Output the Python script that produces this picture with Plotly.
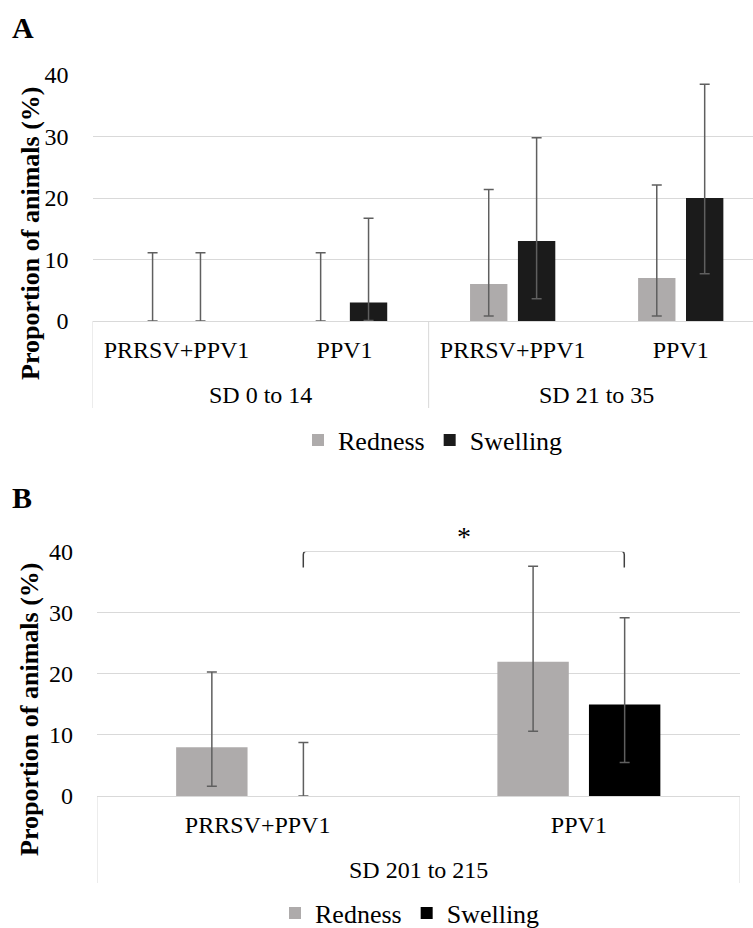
import plotly.graph_objects as go

# ---------------- data ----------------
# Panel A
a_groups = ["SD 0 to 14", "SD 0 to 14", "SD 21 to 35", "SD 21 to 35"]
a_cats = ["PRRSV+PPV1", "PPV1", "PRRSV+PPV1", "PPV1"]
a_red = [0, 0, 6, 7]
a_red_hi = [11.1, 11.1, 21.4, 22.1]
a_red_lo = [0, 0, 0.8, 0.8]
a_swe = [0, 3, 13, 20]
a_swe_hi = [11.1, 16.7, 29.8, 38.5]
a_swe_lo = [0, 0.1, 3.6, 7.7]

# Panel B
b_groups = ["SD 201 to 215", "SD 201 to 215"]
b_cats = ["PRRSV+PPV1", "PPV1"]
b_red = [8, 22]
b_red_hi = [20.3, 37.6]
b_red_lo = [1.6, 10.6]
b_swe = [0, 15]
b_swe_hi = [8.75, 29.2]
b_swe_lo = [0, 5.5]

y_ticks = [0, 10, 20, 30, 40]

# ---------------- style ----------------
W, H = 753, 928
FONT = "'Times New Roman', 'Liberation Serif', 'Nimbus Roman', 'DejaVu Serif', serif"
RED_C = "#AEABAB"
SWE_A_C = "#1B1B1B"
SWE_B_C = "#000000"
ERR_C = "#5F5F5F"
GRID_C = "#D9D9D9"


def px_y(p):
    return 1 - p / H


def err(vals, hi, lo):
    return dict(type="data", symmetric=False,
                array=[h - v for v, h in zip(vals, hi)],
                arrayminus=[v - l for v, l in zip(vals, lo)],
                color=ERR_C, thickness=1.5, width=5)


fig = go.Figure()

panels = [
    dict(xa="x", ya="y", leg="legend", groups=a_groups, cats=a_cats,
         red=(a_red, a_red_hi, a_red_lo), swe=(a_swe, a_swe_hi, a_swe_lo),
         swe_c=SWE_A_C, group_y=395, div=(321, 408)),
    dict(xa="x2", ya="y2", leg="legend2", groups=b_groups, cats=b_cats,
         red=(b_red, b_red_hi, b_red_lo), swe=(b_swe, b_swe_hi, b_swe_lo),
         swe_c=SWE_B_C, group_y=870, div=(796, 883)),
]

for p in panels:
    idx = list(range(len(p["cats"])))
    for name, (v, hi, lo), col in (("Redness", p["red"], RED_C), ("Swelling", p["swe"], p["swe_c"])):
        fig.add_trace(go.Bar(x=idx, y=v, name=name,
                             marker=dict(color=col, line=dict(width=0)),
                             error_y=err(v, hi, lo),
                             xaxis=p["xa"], yaxis=p["ya"], legend=p["leg"]))
    # group labels of the two-level category axis
    order = []
    for g in p["groups"]:
        if g not in order:
            order.append(g)
    for g in order:
        members = [i for i, gg in enumerate(p["groups"]) if gg == g]
        fig.add_annotation(text=g, xref=p["xa"], yref="paper",
                           x=sum(members) / len(members), y=px_y(p["group_y"]),
                           xanchor="center", yanchor="middle", showarrow=False,
                           font=dict(family=FONT, size=24, color="black"))
    # dividers at group boundaries
    bounds = [-0.5]
    for i in range(1, len(p["groups"])):
        if p["groups"][i] != p["groups"][i - 1]:
            bounds.append(i - 0.5)
    bounds.append(len(p["groups"]) - 0.5)
    for b in bounds:
        fig.add_shape(type="line", xref=p["xa"], yref="paper", x0=b, x1=b,
                      y0=px_y(p["div"][0]), y1=px_y(p["div"][1]),
                      line=dict(color=GRID_C, width=1))

xcommon = dict(showline=True, linecolor=GRID_C, linewidth=1, showgrid=False,
               zeroline=False, ticks="", ticklabelstandoff=7,
               tickfont=dict(family=FONT, size=24, color="black"))
ycommon = dict(range=[0, 40], tickvals=y_ticks, showgrid=True, gridcolor=GRID_C,
               gridwidth=1, zeroline=False, showline=False, ticks="",
               ticklabelstandoff=23,
               tickfont=dict(family=FONT, size=24, color="black"))

legend_common = dict(orientation="h", xanchor="center", yanchor="middle",
                     font=dict(family=FONT, size=26, color="black"),
                     bgcolor="rgba(0,0,0,0)", itemwidth=30, tracegroupgap=0)

fig.update_layout(
    width=W, height=H,
    margin=dict(l=0, r=0, t=0, b=0, autoexpand=False),
    paper_bgcolor="white", plot_bgcolor="white",
    barmode="group", bargap=0.43, bargroupgap=0.22,
    font=dict(family=FONT, size=24, color="black"),
    # panel A's plot area runs slightly past the right edge of the picture
    xaxis=dict(domain=[92.5 / W, 1.0], anchor="y", range=[-0.5, len(a_cats) - 0.57],
               tickvals=list(range(len(a_cats))), ticktext=a_cats, **xcommon),
    yaxis=dict(domain=[px_y(321), px_y(75)], anchor="x", **ycommon),
    xaxis2=dict(domain=[97 / W, 739.5 / W], anchor="y2", range=[-0.5, len(b_cats) - 0.5],
                tickvals=list(range(len(b_cats))), ticktext=b_cats, **xcommon),
    yaxis2=dict(domain=[px_y(796), px_y(551.7)], anchor="x2", **ycommon),
    legend=dict(x=433 / W, y=px_y(440), **legend_common),
    legend2=dict(x=410 / W, y=px_y(913), **legend_common),
    showlegend=True,
)

# panel letters and y-axis titles
for txt, yy in (("A", 27.5), ("B", 497)):
    fig.add_annotation(text="<b>%s</b>" % txt, xref="paper", yref="paper",
                       x=10 / W, y=px_y(yy), xanchor="left", yanchor="middle",
                       showarrow=False, font=dict(family=FONT, size=30, color="black"))
for xx, yy in ((30, 234), (29, 710)):
    fig.add_annotation(text="<b>Proportion of animals (%)</b>", xref="paper", yref="paper",
                       x=xx / W, y=px_y(yy), xanchor="center", yanchor="middle",
                       textangle=-90, showarrow=False,
                       font=dict(family=FONT, size=26, color="black"))

# significance bracket in panel B (between the two Swelling bars)
bx0 = (303.3 - 97) / (739.5 - 97)
bx1 = (624.3 - 97) / (739.5 - 97)
ytop, ylow = 40.1, 37.4
path = (f"M {bx0},{ylow} L {bx0},{ytop - 0.6} Q {bx0},{ytop} {bx0 + 0.006},{ytop} "
        f"L {bx1 - 0.006},{ytop} Q {bx1},{ytop} {bx1},{ytop - 0.6} L {bx1},{ylow}")
fig.add_shape(type="path", path=path, xref="x2 domain", yref="y2",
              line=dict(color="#404040", width=1.5))
fig.add_annotation(text="*", xref="x2 domain", yref="paper", x=(bx0 + bx1) / 2,
                   y=px_y(536), yanchor="middle", showarrow=False,
                   font=dict(family=FONT, size=28, color="black"))

fig.write_html("out.html")
